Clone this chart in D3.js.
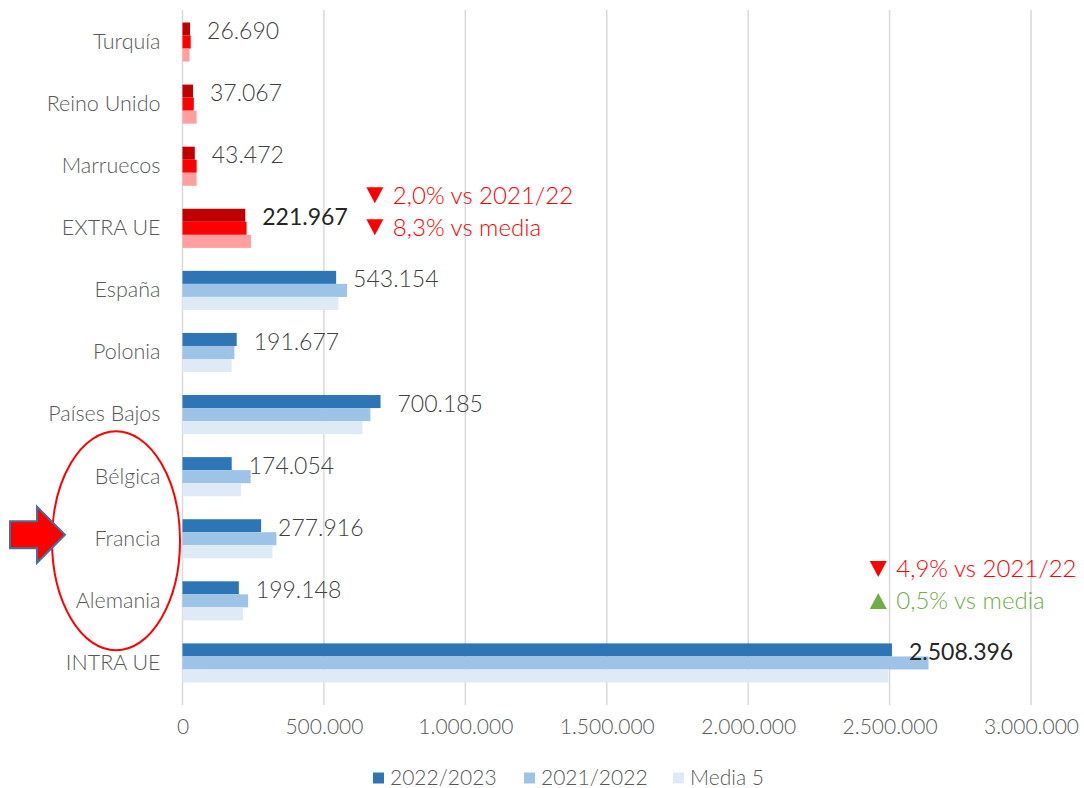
<!DOCTYPE html>
<html>
<head>
<meta charset="utf-8">
<script src="https://cdn.jsdelivr.net/npm/d3@7"></script>
<style>
  body { margin: 0; background: #fff; }
  svg { display: block; font-family: Lato, "Open Sans", sans-serif; font-weight: 300; }
</style>
</head>
<body>
<div id="chart"></div>
<script>
const categories = ["Turquía", "Reino Unido", "Marruecos", "EXTRA UE", "España", "Polonia", "Países Bajos", "Bélgica", "Francia", "Alemania", "INTRA UE"];
const s2223 = [26690, 37067, 43472, 221967, 543154, 191677, 700185, 174054, 277916, 199148, 2508396];
const s2122 = [29000, 40000, 50000, 226500, 581700, 183500, 664300, 241000, 332000, 232000, 2637600];
const media5 = [25000, 50000, 50000, 242000, 551300, 174000, 636000, 207000, 318000, 214000, 2495900];
const seriesNames = ["2022/2023", "2021/2022", "Media 5"];
const extraUE = ["Turquía", "Reino Unido", "Marruecos", "EXTRA UE"];
const totals = ["EXTRA UE", "INTRA UE"];
const xTicks = [0, 500000, 1000000, 1500000, 2000000, 2500000, 3000000];

// variation notes next to the two totals
const noteCats = ["EXTRA UE", "EXTRA UE", "INTRA UE", "INTRA UE"];
const noteTexts = ["2,0% vs 2021/22", "8,3% vs media", "4,9% vs 2021/22", "0,5% vs media"];
const noteDirs = ["down", "down", "down", "up"];

const W = 1084, H = 788;
const blues = ["#2E75B6", "#9DC3E6", "#DEEBF7"];
const reds = ["#C00000", "#FF0000", "#FF9F9F"];

const locale = d3.formatLocale({ decimal: ",", thousands: ".", grouping: [3], currency: ["", ""] });
const fmt = locale.format(",.0f");

const svg = d3.select("#chart").append("svg")
  .attr("width", W).attr("height", H);

const x = d3.scaleLinear().domain([0, 3000000]).range([182.5, 1031]);
const y = d3.scaleBand().domain(categories).range([11, 694])
  .paddingInner(0.37).paddingOuter(0.185);
const yInner = d3.scaleBand().domain([0, 1, 2]).range([0, y.bandwidth()]);
const mid = c => y(c) + y.bandwidth() / 2;

// gridlines
svg.append("g")
  .selectAll("line")
  .data(xTicks)
  .enter().append("line")
  .attr("x1", d => x(d)).attr("x2", d => x(d))
  .attr("y1", 10).attr("y2", 705)
  .attr("stroke", "#D9D9D9").attr("stroke-width", 1.5);

// x axis labels
const xAxis = d3.axisBottom(x).tickValues(xTicks).tickSize(0).tickPadding(0)
  .tickFormat(d => fmt(d));
svg.append("g")
  .attr("transform", "translate(0,719)")
  .call(xAxis)
  .call(g => g.select(".domain").remove())
  .selectAll("text")
  .attr("font-size", 21).attr("fill", "#595959")
  .attr("font-family", "Lato, sans-serif").attr("font-weight", 300);

// y axis labels
const yAxis = d3.axisLeft(y).tickSize(0).tickPadding(22);
svg.append("g")
  .attr("transform", "translate(182.5,0)")
  .call(yAxis)
  .call(g => g.select(".domain").remove())
  .selectAll("text")
  .attr("font-size", 21.5).attr("fill", "#595959")
  .attr("font-family", "Lato, sans-serif").attr("font-weight", 300);

// bars
const series = [s2223, s2122, media5];
const rows = [];
categories.forEach((c, i) => {
  series.forEach((s, j) => rows.push({ cat: c, j: j, value: s[i] }));
});
svg.append("g")
  .selectAll("rect")
  .data(rows)
  .enter().append("rect")
  .attr("x", x(0))
  .attr("y", d => y(d.cat) + yInner(d.j))
  .attr("width", d => x(d.value) - x(0))
  .attr("height", yInner.bandwidth())
  .attr("fill", d => (extraUE.includes(d.cat) ? reds : blues)[d.j]);

// value labels
svg.append("g")
  .selectAll("text")
  .data(categories)
  .enter().append("text")
  .attr("x", (c, i) => x(s2223[i]) + 17)
  .attr("y", c => y(c) + yInner.bandwidth() / 2 + 2)
  .attr("dy", "0.35em")
  .attr("font-size", 23)
  .attr("font-weight", c => totals.includes(c) ? 400 : 300)
  .attr("fill", c => totals.includes(c) ? "#262626" : "#404040")
  .text((c, i) => fmt(s2223[i]));

// notes
const noteX = { "EXTRA UE": 680000, "INTRA UE": 2460000 };
const noteOff = { "EXTRA UE": [-33, -1], "INTRA UE": [-94, -62] };
const noteG = svg.append("g");
noteCats.forEach((c, k) => {
  const first = noteCats.indexOf(c) === k;
  const cy = mid(c) + noteOff[c][first ? 0 : 1];
  const cx = x(noteX[c]);
  const col = noteDirs[k] === "down" ? "#FF0000" : "#70AD47";
  const tri = noteDirs[k] === "down"
    ? [[cx - 8.5, cy - 8], [cx + 8.5, cy - 8], [cx, cy + 8]]
    : [[cx - 8.5, cy + 8], [cx + 8.5, cy + 8], [cx, cy - 8]];
  noteG.append("path").attr("d", d3.line()(tri) + "Z").attr("fill", col);
  noteG.append("text")
    .attr("x", cx + 18).attr("y", cy).attr("dy", "0.35em")
    .attr("font-size", 24).attr("fill", col)
    .text(noteTexts[k]);
});

// highlight around Bélgica / Francia / Alemania
const fy = mid("Francia");
svg.append("ellipse")
  .attr("cx", 116).attr("cy", fy + 2).attr("rx", 64).attr("ry", 109.5)
  .attr("fill", "none").attr("stroke", "#FF0000").attr("stroke-width", 2);
const ay = fy - 4;
svg.append("path")
  .attr("d", d3.line()([[10, ay - 13.5], [37, ay - 13.5], [37, ay - 28], [65, ay], [37, ay + 28], [37, ay + 13.5], [10, ay + 13.5]]) + "Z")
  .attr("fill", "#FF0000").attr("stroke", "#41719C").attr("stroke-width", 2);

// legend
const legX = [373, 524, 673];
const legend = svg.append("g").selectAll("g")
  .data(seriesNames)
  .enter().append("g")
  .attr("transform", (d, i) => "translate(" + legX[i] + ",778)");
legend.append("rect").attr("x", 0).attr("y", -5.5).attr("width", 11).attr("height", 11)
  .attr("fill", (d, i) => blues[i]);
legend.append("text").attr("x", 17).attr("dy", "0.35em")
  .attr("font-size", 21).attr("fill", "#595959").text(d => d);
</script>
</body>
</html>
